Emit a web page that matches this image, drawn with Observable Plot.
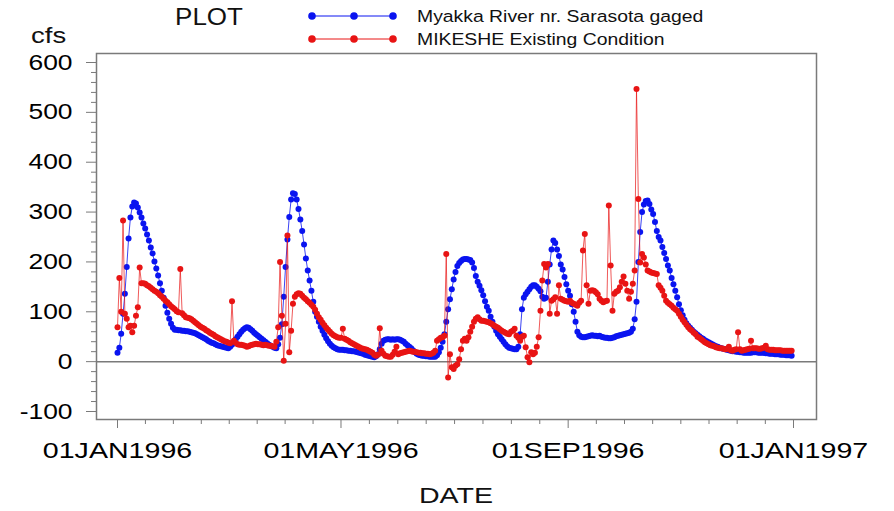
<!DOCTYPE html>
<html><head><meta charset="utf-8">
<script src="https://cdn.jsdelivr.net/npm/d3@7"></script>
<script src="https://cdn.jsdelivr.net/npm/@observablehq/plot@0.6"></script>
<style>
body{margin:0;background:#fff}
#chart{position:relative;width:894px;height:511px}
</style>
</head><body><div id="chart"></div>
<script>
// ---- data (daily, 01JAN1996 .. 31DEC1996) ----
const startYear = 1996;
const gaged = [
 18,28,56,96,136,190,247,289,311,319,
 317,309,299,289,277,267,255,243,229,217,
 201,187,173,157,142,128,112,98,86,76,
 68,64,64,63,63,62,62,61,61,60,
 59,58,57,55,53,51,49,47,45,42,
 40,38,37,35,33,32,31,30,29,28,
 27,30,34,39,45,50,55,60,64,67,
 69,68,65,62,58,55,52,49,46,43,
 40,37,34,32,30,28,27,35,48,75,
 130,190,245,290,325,338,336,325,306,285,
 262,235,207,183,163,142,120,100,90,80,
 70,62,54,47,41,36,32,29,27,25,
 24,24,24,23,23,22,22,21,21,20,
 19,18,17,16,14,13,12,11,10,9,
 11,15,25,36,42,44,45,45,44,45,
 44,45,45,44,42,40,36,33,30,27,
 23,19,16,14,13,12,12,11,11,10,
 10,10,10,13,19,28,40,55,80,105,
 125,145,165,180,192,198,202,205,206,206,
 205,204,199,188,172,160,152,143,133,121,
 110,102,90,80,70,62,55,50,45,40,
 35,31,28,27,26,25,25,30,55,105,
 128,135,140,145,150,153,153,150,146,141,
 130,126,128,160,195,225,243,238,225,212,
 195,185,170,155,142,132,115,100,80,60,
 53,50,49,49,50,51,52,53,52,52,
 51,52,50,49,48,48,47,47,48,49,
 51,52,53,54,55,56,57,58,60,66,
 85,120,200,260,300,315,322,323,316,305,
 296,280,262,250,243,230,218,206,193,183,
 168,155,142,129,115,103,93,84,77,72,
 68,64,60,57,54,51,48,46,43,41,
 39,37,35,33,31,30,28,27,26,25,
 24,23,22,21,21,20,20,19,19,18,
 18,18,18,18,19,19,19,18,18,18,
 18,17,17,16,16,16,15,15,15,14,
 14,14,13,13,13,12
];
const mikeshe = [
 69,168,100,283,96,86,69,72,59,72,
 92,109,189,157,157,156,153,151,148,145,
 142,140,137,133,130,126,122,119,115,111,
 108,105,101,99,186,97,93,89,88,87,
 85,82,79,76,73,70,68,66,63,61,
 58,56,54,51,49,47,45,43,41,40,
 38,37,121,42,38,35,34,34,33,32,
 30,31,33,34,35,36,35,35,34,33,
 34,33,32,32,31,30,40,69,200,92,
 2,76,253,19,62,116,130,135,137,136,
 132,128,125,121,118,114,110,104,96,89,
 84,78,73,68,64,60,56,53,51,49,
 48,48,66,46,44,42,39,37,35,33,
 31,29,27,26,25,24,22,20,18,14,
 12,14,67,22,16,12,11,10,10,14,
 20,30,15,17,18,19,20,21,22,21,
 20,20,19,18,18,17,17,16,16,15,
 16,18,22,42,45,48,49,52,216,-32,
 15,-11,-15,-8,-5,5,25,42,46,42,
 49,60,70,80,86,89,85,82,82,81,
 80,79,77,75,72,70,68,65,62,60,
 58,56,55,60,62,66,52,48,42,50,
 52,29,9,-1,19,15,18,30,49,102,
 163,196,189,196,96,122,125,129,96,153,
 126,124,122,121,120,122,118,116,114,112,
 118,122,223,256,153,116,142,143,142,139,
 135,126,122,119,121,122,313,193,102,136,
 140,142,149,160,171,156,142,126,140,156,
 183,547,326,199,216,209,195,183,181,179,
 178,177,176,153,148,142,132,122,118,115,
 112,108,105,102,96,90,84,79,74,69,
 65,62,58,55,50,48,45,42,39,37,
 35,33,32,31,29,28,27,27,26,25,
 25,30,23,22,24,25,59,25,22,23,
 24,25,26,42,27,27,27,26,26,27,
 28,32,25,24,24,24,23,23,23,23,
 22,22,22,22,22,22
];
const seriesNames = ["Myakka River nr. Sarasota gaged", "MIKESHE Existing Condition"];
const seriesColors = ["#0a14f0", "#e81414"];
const majorTickMonths = [[1996,0],[1996,4],[1996,8],[1997,0]];
const majorTickLabels = ["01JAN1996","01MAY1996","01SEP1996","01JAN1997"];
const yTicks = [-100,0,100,200,300,400,500,600];
const yMinorStep = 20;
const minorPerMajorX = 8;
const titleText = "PLOT", yLabelText = "cfs", xLabelText = "DATE";

// ---- build tables ----
const day = 864e5;
const t0 = Date.UTC(startYear, 0, 1);
const blueRows = gaged.map((v, i) => ({date: new Date(t0 + i*day), value: v, series: seriesNames[0]}));
const redRows = mikeshe.map((v, i) => ({date: new Date(t0 + i*day), value: v, series: seriesNames[1]}));

const majorDates = majorTickMonths.map(([y, m]) => new Date(Date.UTC(y, m, 1)));
const minorDates = [];
for (let k = 0; k < majorDates.length - 1; k++) {
  const a = +majorDates[k], b = +majorDates[k+1];
  for (let j = 1; j < minorPerMajorX; j++) minorDates.push(new Date(a + (b - a) * j / minorPerMajorX));
}
const yMinor = d3.range(yTicks[0], yTicks[yTicks.length-1] + 1, yMinorStep).filter(v => !yTicks.includes(v));
const labelOf = new Map(majorDates.map((d, i) => [+d, majorTickLabels[i]]));

const axisGray = "#7a7a7a";
const font = "'Liberation Sans', Arial, Helvetica, sans-serif";

const chart = Plot.plot({
  width: 894, height: 511,
  marginLeft: 96, marginRight: 78, marginTop: 53, marginBottom: 92,
  x: {type: "utc", domain: [majorDates[0], majorDates[majorDates.length-1]], insetLeft: 21, insetRight: 23, label: null},
  y: {domain: [yTicks[0], yTicks[yTicks.length-1]], insetTop: 9, insetBottom: 8, label: null},
  style: {fontFamily: font, fontSize: "22px", color: "#000", background: "#fff"},
  marks: [
    Plot.ruleY([0], {stroke: axisGray, strokeWidth: 1.5}),
    Plot.axisY({ticks: yMinor, tickSize: 5, tickFormat: () => "", stroke: axisGray, label: null}),
    Plot.axisY({ticks: yTicks, tickSize: 10, tickPadding: 14, stroke: axisGray, fill: "#000", fontSize: 22, label: null, tickFormat: d => String(d), ariaLabel: "ymajor"}),
    Plot.axisX({ticks: minorDates, tickSize: 5, tickFormat: () => "", stroke: axisGray, label: null}),
    Plot.axisX({ticks: majorDates, tickSize: 9, tickPadding: 14, stroke: axisGray, fill: "#000", fontSize: 22, label: null, tickFormat: d => labelOf.get(+d) ?? "", ariaLabel: "xmajor"}),
    Plot.line(blueRows, {x: "date", y: "value", stroke: seriesColors[0], strokeWidth: 1, strokeOpacity: 0.8}),
    Plot.dot(blueRows, {x: "date", y: "value", r: 3, fill: seriesColors[0], stroke: "none"}),
    Plot.line(redRows, {x: "date", y: "value", stroke: seriesColors[1], strokeWidth: 1, strokeOpacity: 0.7}),
    Plot.dot(redRows, {x: "date", y: "value", r: 3, fill: seriesColors[1], stroke: "none"}),
    Plot.frame({stroke: axisGray, strokeWidth: 1.5})
  ]
});
document.getElementById("chart").appendChild(chart);

const svg = d3.select(chart);
// widen tick labels horizontally (the reference's lettering is broad)
function widen(sel, sx) {
  sel.each(function() {
    const t = this.getAttribute("transform") || "";
    this.setAttribute("transform", t + ` scale(${sx},1)`);
  });
}
widen(svg.selectAll("g[aria-label='xmajor tick label'] text, g[aria-label='x-axis tick label'] text"), 1.3);
widen(svg.selectAll("g[aria-label='ymajor tick label'] text, g[aria-label='y-axis tick label'] text"), 1.2);

// ---- title, axis titles, legend ----
function addText(x, y, txt, size, anchor, sx) {
  svg.append("text").attr("transform", `translate(${x},${y}) scale(${sx},1)`)
    .attr("text-anchor", anchor)
    .style("font-family", font).style("font-size", size + "px").attr("fill", "#111").text(txt);
}
addText(209, 25, titleText, 23, "middle", 1.13);
addText(31, 43, yLabelText, 22, "start", 1.25);
addText(456, 503, xLabelText, 22, "middle", 1.3);
const legendY = [16, 39];
seriesNames.forEach((name, i) => {
  svg.append("line").attr("x1", 311).attr("x2", 394).attr("y1", legendY[i]).attr("y2", legendY[i])
    .attr("stroke", seriesColors[i]).attr("stroke-width", 1);
  [312, 354, 393].forEach(cx => svg.append("circle").attr("cx", cx).attr("cy", legendY[i]).attr("r", 3.8).attr("fill", seriesColors[i]));
  addText(417, legendY[i] + 6, name, 17, "start", 1.14);
});
</script>
</body></html>
